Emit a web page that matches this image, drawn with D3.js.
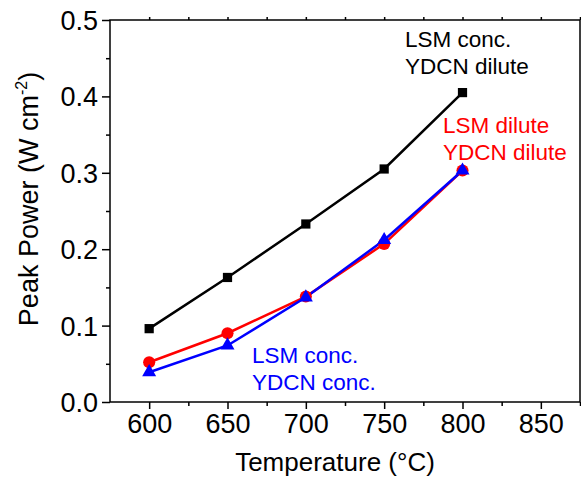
<!DOCTYPE html>
<html>
<head>
<meta charset="utf-8">
<script src="https://cdn.jsdelivr.net/npm/d3@7"></script>
<style>
  body { margin: 0; background: #fff; }
  svg text { font-family: "Liberation Sans", Arial, sans-serif; }
</style>
</head>
<body>
<svg id="chart" width="581" height="481"></svg>
<script>
// values
const temps = [600, 650, 700, 750, 800];
const concDilute = [0.096, 0.163, 0.233, 0.305, 0.405];   // LSM conc. / YDCN dilute
const diluteDilute = [0.052, 0.090, 0.138, 0.207, 0.303]; // LSM dilute / YDCN dilute
const concConc = [0.039, 0.074, 0.137, 0.212, 0.303];     // LSM conc. / YDCN conc.
const xTicks = [600, 650, 700, 750, 800, 850];
const yTicks = [0.0, 0.1, 0.2, 0.3, 0.4, 0.5];

const svg = d3.select('#chart');
const padL = 110, padR = 580, padT = 20, padB = 402;

let x = d3.scaleLinear().domain([575, 875]).range([padL, padR]);
let y = d3.scaleLinear().domain([0, 0.5]).range([padB, padT]);

// frame
svg.append('rect')
  .attr('x', padL).attr('y', padT)
  .attr('width', padR - padL).attr('height', padB - padT)
  .attr('fill', 'none').attr('stroke', '#000').attr('stroke-width', 1.5);

// bottom axis
let xAxis = svg.append('g').attr('transform', `translate(0,${padB})`)
  .call(d3.axisBottom(x).tickValues(xTicks).tickSize(7).tickSizeOuter(0).tickPadding(5).tickFormat(d3.format('d')));
svg.append('g').attr('transform', `translate(0,${padB})`)
  .call(d3.axisBottom(x).tickValues([625, 675, 725, 775, 825, 875]).tickSize(4).tickSizeOuter(0).tickFormat(''));
// top minor ticks
svg.append('g').attr('transform', `translate(0,${padT})`)
  .call(d3.axisTop(x).tickValues(d3.range(600, 876, 25)).tickSize(3).tickSizeOuter(0).tickFormat(''));

// left axis
let yAxis = svg.append('g').attr('transform', `translate(${padL},0)`)
  .call(d3.axisLeft(y).tickValues(yTicks).tickSize(8).tickSizeOuter(0).tickPadding(4).tickFormat(d3.format('.1f')));
svg.append('g').attr('transform', `translate(${padL},0)`)
  .call(d3.axisLeft(y).tickValues([0.05, 0.15, 0.25, 0.35, 0.45]).tickSize(4).tickSizeOuter(0).tickFormat(''));

svg.selectAll('.domain').remove();
svg.selectAll('.tick line').attr('stroke', '#000').attr('stroke-width', 1.5);
xAxis.selectAll('text').attr('font-size', 27).attr('fill', '#000');
yAxis.selectAll('text').attr('font-size', 27).attr('fill', '#000').attr('dy', '0.35em');

// axis titles
svg.append('text')
  .attr('x', 335).attr('y', 471)
  .attr('text-anchor', 'middle').attr('font-size', 26)
  .text('Temperature (°C)');

let yt = svg.append('text')
  .attr('transform', 'translate(38,199) rotate(-90)')
  .attr('text-anchor', 'middle').attr('font-size', 27);
yt.append('tspan').text('Peak Power (W cm');
yt.append('tspan').attr('font-size', 16).attr('dy', -11).text('-2');
yt.append('tspan').attr('dy', 11).text(')');

// series
let series = [
  {vals: concDilute, color: '#000000', symbol: d3.symbolSquare, size: 85},
  {vals: diluteDilute, color: '#ff0000', symbol: d3.symbolCircle, size: 115},
  {vals: concConc, color: '#0000ff', symbol: d3.symbolTriangle, size: 85}
];

let line = d3.line()
  .x((d, i) => x(temps[i]))
  .y(d => y(d));

series.forEach(s => {
  svg.append('path').datum(s.vals)
    .attr('fill', 'none')
    .attr('stroke', s.color)
    .attr('stroke-width', 2.5)
    .attr('d', line);
});

series.forEach(s => {
  svg.append('g').selectAll('path')
    .data(s.vals)
    .join('path')
    .attr('transform', (d, i) => `translate(${x(temps[i])},${y(d)})`)
    .attr('d', d3.symbol().type(s.symbol).size(s.size))
    .attr('fill', s.color);
});

// annotations
let labels = [
  {lines: ['LSM conc.', 'YDCN dilute'], x: 405, y: 47, color: '#000000'},
  {lines: ['LSM dilute', 'YDCN dilute'], x: 443, y: 133, color: '#ff0000'},
  {lines: ['LSM conc.', 'YDCN conc.'], x: 252, y: 363, color: '#0000ff'}
];
labels.forEach(l => {
  l.lines.forEach((t, i) => {
    svg.append('text')
      .attr('x', l.x).attr('y', l.y + i * 27)
      .attr('font-size', 22.5)
      .attr('fill', l.color)
      .text(t);
  });
});
</script>
</body>
</html>
